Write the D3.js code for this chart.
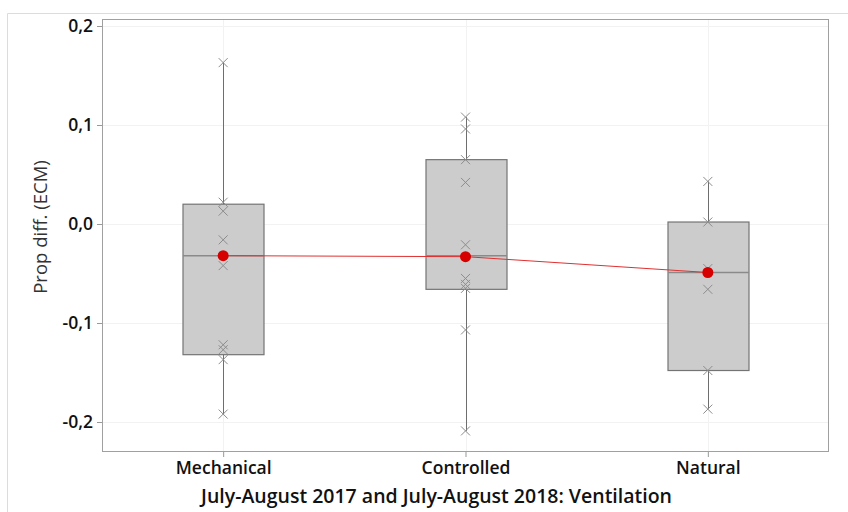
<!DOCTYPE html>
<html>
<head>
<meta charset="utf-8">
<script src="https://cdn.jsdelivr.net/npm/d3@7"></script>
<style>
  html, body { margin: 0; padding: 0; background: #fff; }
  svg { display: block; }
  text { font-family: "Open Sans", "Noto Sans", sans-serif; }
</style>
</head>
<body>
<svg id="chart" width="848" height="512"></svg>
<script>
// ---- Data ----
const categories = ["Mechanical", "Controlled", "Natural"];
const q1Values = [-0.132, -0.066, -0.148];
const medianValues = [-0.032, -0.032, -0.049];
const q3Values = [0.020, 0.065, 0.002];
const whiskerLow = [-0.192, -0.209, -0.187];
const whiskerHigh = [0.163, 0.108, 0.043];
const meanValues = [-0.032, -0.033, -0.049];
const mechanicalPoints = [0.163, 0.022, 0.013, -0.016, -0.042, -0.122, -0.127, -0.137, -0.192];
const controlledPoints = [0.108, 0.096, 0.065, 0.042, -0.021, -0.055, -0.061, -0.065, -0.107, -0.209];
const naturalPoints = [0.043, 0.002, -0.045, -0.066, -0.148, -0.187];
const pointSets = [mechanicalPoints, controlledPoints, naturalPoints];
const yTicks = [-0.2, -0.1, 0.0, 0.1, 0.2];
const yTickLabels = ["-0,2", "-0,1", "0,0", "0,1", "0,2"];
const yTitle = "Prop diff. (ECM)";
const xTitle = "July-August 2017 and July-August 2018: Ventilation";

// ---- Layout ----
const svg = d3.select("#chart");
const plot = { left: 102, right: 829, top: 19, bottom: 452 };

// outer frame
svg.append("path")
  .attr("d", `M7.5,512 L7.5,13.5 L848,13.5`)
  .attr("fill", "none").attr("stroke", "#dcdcdc").attr("stroke-width", 1);

const x = d3.scalePoint().domain(categories).range([plot.left, plot.right]).padding(0.5);
const y = d3.scaleLinear().domain([-0.2, 0.2]).range([422, 26]);

// gridlines
const g = svg.append("g");
g.selectAll(".hgrid").data(yTicks).enter().append("line")
  .attr("x1", plot.left).attr("x2", plot.right)
  .attr("y1", d => Math.round(y(d)) + 0.5).attr("y2", d => Math.round(y(d)) + 0.5)
  .attr("stroke", "#f2f2f2").attr("stroke-width", 1);
g.selectAll(".vgrid").data(categories).enter().append("line")
  .attr("x1", d => Math.round(x(d)) + 0.5).attr("x2", d => Math.round(x(d)) + 0.5)
  .attr("y1", plot.top).attr("y2", plot.bottom)
  .attr("stroke", "#f2f2f2").attr("stroke-width", 1);

// axes
const yAxis = d3.axisLeft(y).tickValues(yTicks).tickSize(5).tickPadding(4)
  .tickFormat((d, i) => yTickLabels[i]);
const ya = svg.append("g").attr("transform", `translate(${plot.left},0)`).call(yAxis);
ya.select(".domain").remove();
ya.selectAll(".tick line").attr("stroke", "#999");
ya.selectAll(".tick text").attr("fill", "#111").style("font-size", "17.5px").style("font-weight", "600");

const xAxis = d3.axisBottom(x).tickSize(5).tickPadding(5);
const xa = svg.append("g").attr("transform", `translate(0,${plot.bottom})`).call(xAxis);
xa.select(".domain").remove();
xa.selectAll(".tick line").attr("stroke", "#999");
xa.selectAll(".tick text").attr("fill", "#111").style("font-size", "17.5px").style("font-weight", "600");

// plot frame
svg.append("rect")
  .attr("x", plot.left + 0.5).attr("y", plot.top + 0.5)
  .attr("width", plot.right - plot.left - 1).attr("height", plot.bottom - plot.top - 1)
  .attr("fill", "none").attr("stroke", "#a0a0a0").attr("stroke-width", 1);

// boxes
const boxW = 81;
const boxes = svg.append("g");
categories.forEach((c, i) => {
  const cx = Math.round(x(c)) + 0.5;
  boxes.append("line").attr("x1", cx).attr("x2", cx)
    .attr("y1", y(whiskerHigh[i])).attr("y2", y(q3Values[i]))
    .attr("stroke", "#6e6e6e").attr("stroke-width", 1);
  boxes.append("line").attr("x1", cx).attr("x2", cx)
    .attr("y1", y(q1Values[i])).attr("y2", y(whiskerLow[i]))
    .attr("stroke", "#6e6e6e").attr("stroke-width", 1);
  boxes.append("rect")
    .attr("x", cx - boxW / 2).attr("width", boxW)
    .attr("y", y(q3Values[i])).attr("height", y(q1Values[i]) - y(q3Values[i]))
    .attr("fill", "#cccccc").attr("stroke", "#747474").attr("stroke-width", 1.2);
  boxes.append("line").attr("x1", cx - boxW / 2).attr("x2", cx + boxW / 2)
    .attr("y1", y(medianValues[i])).attr("y2", y(medianValues[i]))
    .attr("stroke", "#8a8a8a").attr("stroke-width", 1.5);
});

// individual points as x marks
const pts = svg.append("g");
const s = 4.5;
categories.forEach((c, i) => {
  const cx = x(c);
  pointSets[i].forEach(v => {
    const cy = y(v);
    pts.append("path")
      .attr("d", `M${cx - s},${cy - s}L${cx + s},${cy + s}M${cx - s},${cy + s}L${cx + s},${cy - s}`)
      .attr("stroke", "#8c8c8c").attr("stroke-width", 1).attr("fill", "none");
  });
});

// mean connect line
const line = d3.line().x((d, i) => x(categories[i])).y(d => y(d));
svg.append("path").datum(meanValues).attr("d", line)
  .attr("fill", "none").attr("stroke", "#e03030").attr("stroke-width", 1);
svg.append("g").selectAll("circle").data(meanValues).enter().append("circle")
  .attr("cx", (d, i) => x(categories[i])).attr("cy", d => y(d)).attr("r", 5.5)
  .attr("fill", "#d60000");

// titles
svg.append("text")
  .attr("transform", `translate(47,227) rotate(-90)`)
  .attr("text-anchor", "middle").attr("fill", "#333")
  .style("font-size", "18.5px").text(yTitle);
svg.append("text")
  .attr("x", (plot.left + plot.right) / 2 - 29).attr("y", 503)
  .attr("text-anchor", "middle").attr("fill", "#111")
  .style("font-size", "19.5px").style("font-weight", "600").text(xTitle);
</script>
</body>
</html>
